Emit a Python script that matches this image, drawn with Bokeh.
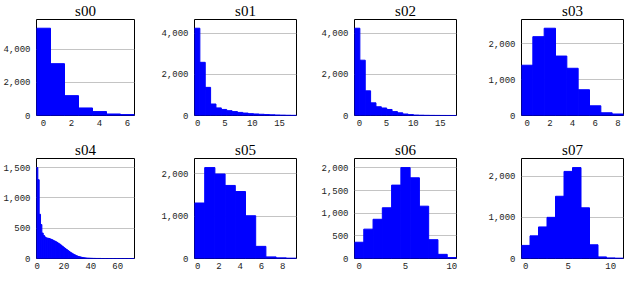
import numpy as np
from bokeh.plotting import figure
from bokeh.layouts import gridplot
from bokeh.models import Range1d, FixedTicker, NumeralTickFormatter
from bokeh.embed import file_html
from bokeh.resources import INLINE

# ---- data (histogram counts per panel, bin range, ticks) ----
names = ["s00", "s01", "s02", "s03", "s04", "s05", "s06", "s07"]

s00_counts = [5270, 3130, 1200, 455, 236, 91, 55]
s01_counts = [4250, 2590, 1370, 560, 370, 295, 235, 190, 150, 118, 90, 75, 60, 45, 35, 25, 18, 12, 8]
s02_counts = [4245, 2690, 1200, 615, 425, 365, 293, 190, 130, 73, 44, 22, 14, 9, 6, 4, 3, 2, 1]
s03_counts = [1400, 2195, 2430, 1655, 1315, 717, 270, 76, 42]
s04_counts = [1500, 1300, 730, 560, 420, 380, 355, 340, 335, 330,
              322, 312, 300, 290, 278, 265, 250, 235, 218, 200,
              182, 165, 148, 132, 116, 100, 86, 73, 61, 50,
              41, 33, 27, 21, 17, 13, 10, 8, 6, 5,
              4, 3, 2, 2, 1, 1, 1, 1, 0, 0,
              0, 0, 0, 0, 0, 0, 0, 0, 0, 0,
              0, 0, 0, 0, 0, 0, 0, 0, 0, 0,
              0, 0, 1]
s05_counts = [1308, 2143, 1992, 1722, 1579, 1008, 286, 38, 15, 8]
s06_counts = [359, 648, 866, 1120, 1620, 2007, 1782, 1155, 415, 92, 21]
s07_counts = [318, 550, 767, 1000, 1512, 2116, 2209, 1232, 333, 39, 15, 8]

s00_range = [-0.5, 6.5]
s01_range = [-0.6, 18.1]
s02_range = [-0.9, 18.0]
s03_range = [-0.5, 8.5]
s04_range = [-0.5, 72.5]
s05_range = [-0.3, 9.3]
s06_range = [-0.5, 10.5]
s07_range = [-0.5, 11.5]

s00_xticks = [0, 2, 4, 6]
s01_xticks = [0, 5, 10, 15]
s02_xticks = [0, 5, 10, 15]
s03_xticks = [0, 2, 4, 6, 8]
s04_xticks = [0, 20, 40, 60]
s05_xticks = [0, 2, 4, 6, 8]
s06_xticks = [0, 5, 10]
s07_xticks = [0, 5, 10]

s00_yticks = [0, 2000, 4000]
s01_yticks = [0, 2000, 4000]
s02_yticks = [0, 2000, 4000]
s03_yticks = [0, 1000, 2000]
s04_yticks = [0, 500, 1000, 1500]
s05_yticks = [0, 1000, 2000]
s06_yticks = [0, 500, 1000, 1500, 2000]
s07_yticks = [0, 1000, 2000]

counts = [s00_counts, s01_counts, s02_counts, s03_counts, s04_counts, s05_counts, s06_counts, s07_counts]
ranges = [s00_range, s01_range, s02_range, s03_range, s04_range, s05_range, s06_range, s07_range]
xticks = [s00_xticks, s01_xticks, s02_xticks, s03_xticks, s04_xticks, s05_xticks, s06_xticks, s07_xticks]
yticks = [s00_yticks, s01_yticks, s02_yticks, s03_yticks, s04_yticks, s05_yticks, s06_yticks, s07_yticks]

# ---- layout ----
CELL_W = 156
col_left = [32, 38, 42, 53]
col_right = [22, 16, 12, 1]
row_h = [132, 140]
row_top = [14, 26]
row_bottom = [17, 14]

TICK_FONT = "Liberation Mono"
TITLE_FONT = "Liberation Serif"

figs = []
for i, name in enumerate(names):
    r, c = divmod(i, 4)
    cnt = np.array(counts[i], dtype=float)
    lo, hi = ranges[i]
    edges = np.linspace(lo, hi, len(cnt) + 1)
    p = figure(width=CELL_W, height=row_h[r], output_backend="svg", toolbar_location=None,
               x_range=Range1d(lo, hi), y_range=Range1d(0, cnt.max() * 1.1),
               min_border_left=col_left[c], min_border_right=col_right[c],
               min_border_top=row_top[r], min_border_bottom=row_bottom[r])
    p.title.text = name
    p.title.align = "center"
    p.title.text_font = TITLE_FONT
    p.title.text_font_size = "15px"
    p.title.text_font_style = "normal"
    p.title.text_color = "#000000"
    p.title.standoff = 1
    p.quad(left=edges[:-1], right=edges[1:], bottom=0, top=cnt,
           fill_color="#0000ff", line_color="#0000ff", line_width=1)
    p.outline_line_color = "black"
    p.outline_line_width = 1
    p.xgrid.visible = False
    p.ygrid.grid_line_color = "#c4c4c4"
    p.ygrid.grid_line_width = 1
    p.xaxis.ticker = FixedTicker(ticks=xticks[i])
    p.yaxis.ticker = FixedTicker(ticks=yticks[i])
    p.yaxis.formatter = NumeralTickFormatter(format="0,0")
    for ax in (p.xaxis[0], p.yaxis[0]):
        ax.axis_line_color = None
        ax.major_tick_line_color = None
        ax.minor_tick_line_color = None
        ax.major_tick_in = 0
        ax.major_tick_out = 0
        ax.major_label_text_font = TICK_FONT
        ax.major_label_text_font_size = "9px"
        ax.major_label_text_color = "#222222"
    p.xaxis.major_label_standoff = 4
    p.yaxis.major_label_standoff = 6
    p.background_fill_color = "white"
    p.border_fill_color = "white"
    figs.append(p)

grid = gridplot([figs[0:4], figs[4:8]], toolbar_location=None)

open("out.html", "w").write(file_html(grid, INLINE))
